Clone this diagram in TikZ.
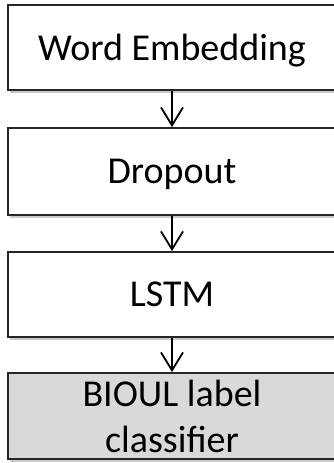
\documentclass[tikz,border=0pt]{standalone}
\usepackage{fontspec}
\setmainfont{Carlito}
\usetikzlibrary{arrows.meta,shadows}
\begin{document}
\begin{tikzpicture}[x=1pt,y=1pt,
  layerbox/.style={draw=black!85, line width=1.8pt, fill=white, minimum width=328pt,
    inner sep=0pt, text depth=0pt, font=\fontsize{38}{46}\selectfont, align=center,
    drop shadow={shadow xshift=1.5pt, shadow yshift=-3pt, fill=black!30, opacity=0.7}},
  flow/.style={line width=1.8pt, draw=black, -{Straight Barb[length=18pt,width=22pt,line width=1.8pt]}}]
\useasboundingbox (0,0) rectangle (334,463);
\node[layerbox, minimum height=85pt] (emb) at (172,415.5) {Word Embedding};
\node[layerbox, minimum height=87pt] (drop) at (172,291.5) {Dropout};
\node[layerbox, minimum height=85pt] (lstm) at (172,168.5) {LSTM};
\node[layerbox, minimum height=86pt, fill=black!15] (clf) at (172,47) {BIOUL label\\classifier};
\draw[flow] (emb.south) -- (drop.north);
\draw[flow] (drop.south) -- (lstm.north);
\draw[flow] (lstm.south) -- (clf.north);
\end{tikzpicture}
\end{document}
